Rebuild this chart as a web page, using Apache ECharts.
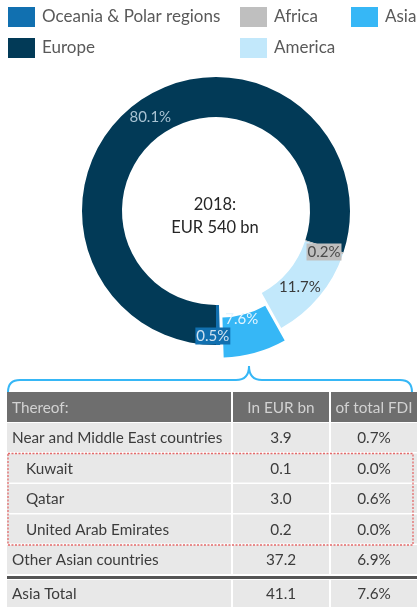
<!DOCTYPE html>
<html>
<head>
<meta charset="utf-8">
<script src="https://cdn.jsdelivr.net/npm/echarts@6/dist/echarts.min.js"></script>
<style>
  html, body { margin: 0; padding: 0; background: #fff; }
  #chart { width: 417px; height: 607px; }
</style>
</head>
<body>
<div id="chart"></div>
<script>
// Regional split of foreign direct investment stock, 2018 (share of total, %)
const regions = ['Oceania & Polar regions', 'Europe', 'Africa', 'America', 'Asia'];
const shares = [0.5, 80.1, 0.2, 11.7, 7.6];
const totalLabel = ['2018:', 'EUR 540 bn'];

// Breakdown of the Asian part
const tableHeaders = ['Thereof:', 'In EUR bn', 'of total FDI'];
const tableRows = ['Near and Middle East countries', 'Kuwait', 'Qatar', 'United Arab Emirates', 'Other Asian countries', 'Asia Total'];
const eurBn = [3.9, 0.1, 3.0, 0.2, 37.2, 41.1];
const shareOfTotal = [0.7, 0.0, 0.6, 0.0, 6.9, 7.6];
const subRow = [false, true, true, true, false, false];

// Styling
const FONT = 'Lato, "Open Sans", sans-serif';
const colors = {
  'Oceania & Polar regions': '#1170b0',
  'Europe': '#023a57',
  'Africa': '#bfbfbf',
  'America': '#c2e8fb',
  'Asia': '#36b7f6'
};
const labelStyles = {
  'Oceania & Polar regions': { color: '#cfe2f0', backgroundColor: '#1170b0', padding: [1, 1] },
  'Europe': { color: '#a9c3d3' },
  'Africa': { color: '#4a4a4a', backgroundColor: '#bfbfbf', padding: [1, 1] },
  'America': { color: '#3a3a3a' },
  'Asia': { color: '#e4f5ff' }
};
const labelNudge = {
  'Oceania & Polar regions': [-5, 8],
  'Europe': [3, 1],
  'Africa': [-3, 4],
  'America': [-6, 1],
  'Asia': [-9, -17]
};

const pieCenter = [216, 211];

const chart = echarts.init(document.getElementById('chart'), null, { renderer: 'canvas' });

const pieData = regions.map((name, i) => ({
  name,
  value: shares[i],
  selected: name === 'Asia',
  itemStyle: { color: colors[name] },
  label: labelStyles[name]
}));

function legendFor(names, left) {
  return {
    data: names,
    left, top: 7,
    padding: 0,
    orient: 'vertical',
    itemWidth: 27,
    itemHeight: 20,
    itemGap: 11,
    icon: 'rect',
    selectedMode: false,
    textStyle: { fontFamily: FONT, fontSize: 17, color: '#595959', padding: [0, 0, 0, 2] }
  };
}

// Table geometry
const colX = [7, 233, 331];
const colW = [224, 96, 86];
const headerTop = 392, headerH = 30;
const rowPitch = 30.5, rowH = 29;
function rowTop(i) { return i < 5 ? 423 + i * rowPitch : 580; }
function rowHeight(i) { return i < 5 ? rowH : 27; }
const TABLE_FONT = '15.3px ' + FONT;

const g = [];
// Brace linking the Asia slice to its breakdown
const braceStyle = { fill: 'none', stroke: '#36b7f6', lineWidth: 2 };
g.push({ type: 'bezierCurve', shape: { x1: 8, y1: 392, cpx1: 8, cpy1: 380, x2: 20, y2: 380 }, style: braceStyle });
g.push({ type: 'line', shape: { x1: 20, y1: 380, x2: 236, y2: 380 }, style: braceStyle });
g.push({ type: 'bezierCurve', shape: { x1: 236, y1: 380, cpx1: 249, cpy1: 380, x2: 249, y2: 366 }, style: braceStyle });
g.push({ type: 'bezierCurve', shape: { x1: 249, y1: 366, cpx1: 249, cpy1: 380, x2: 262, y2: 380 }, style: braceStyle });
g.push({ type: 'line', shape: { x1: 262, y1: 380, x2: 400, y2: 380 }, style: braceStyle });
g.push({ type: 'bezierCurve', shape: { x1: 400, y1: 380, cpx1: 412, cpy1: 380, x2: 412, y2: 392 }, style: braceStyle });
// Header
tableHeaders.forEach((h, c) => {
  g.push({ type: 'rect', shape: { x: colX[c], y: headerTop, width: colW[c], height: headerH }, style: { fill: '#6e6e6e' } });
  g.push({
    type: 'text', x: c === 0 ? colX[c] + 5 : colX[c] + colW[c] / 2, y: headerTop + headerH / 2 + 1,
    style: { text: h, fill: '#d2d2d2', font: TABLE_FONT, align: c === 0 ? 'left' : 'center', verticalAlign: 'middle' }
  });
});
// Body rows
tableRows.forEach((name, i) => {
  const y = rowTop(i), h = rowHeight(i);
  const cells = [name, eurBn[i].toFixed(1), shareOfTotal[i].toFixed(1) + '%'];
  cells.forEach((t, c) => {
    g.push({ type: 'rect', shape: { x: colX[c], y, width: colW[c], height: h }, style: { fill: '#e8e8e8' } });
    const tx = c === 0 ? colX[c] + (subRow[i] ? 19 : 5) : colX[c] + colW[c] / 2;
    g.push({
      type: 'text', x: tx, y: y + h / 2 + 1,
      style: { text: t, fill: '#3c3c3c', font: TABLE_FONT, align: c === 0 ? 'left' : 'center', verticalAlign: 'middle' }
    });
  });
});
// Rule above the total
g.push({ type: 'rect', shape: { x: 7, y: 576, width: 410, height: 3 }, style: { fill: '#555555' } });
// Dotted frame around the Gulf countries
g.push({
  type: 'rect', z: 10,
  shape: { x: 8, y: 453.5, width: 405, height: 91.5 },
  style: { fill: 'none', stroke: '#e36a6a', lineWidth: 1.3, lineDash: [2, 1.5] }
});
// Total in the middle of the ring
g.push({
  type: 'text', x: pieCenter[0] - 1, y: 205,
  style: { text: totalLabel[0], fill: '#262626', font: '16.5px ' + FONT, align: 'center', verticalAlign: 'middle' }
});
g.push({
  type: 'text', x: pieCenter[0] - 1, y: 228,
  style: { text: totalLabel[1], fill: '#262626', font: '16.5px ' + FONT, align: 'center', verticalAlign: 'middle' }
});

chart.setOption({
  animation: false,
  legend: [
    legendFor(['Oceania & Polar regions', 'Europe'], 8),
    legendFor(['Africa', 'America'], 240),
    legendFor(['Asia'], 351)
  ],
  series: [{
    type: 'pie',
    center: pieCenter,
    radius: [94, 134],
    startAngle: 271.8,
    clockwise: true,
    selectedMode: 'multiple',
    selectedOffset: 13,
    avoidLabelOverlap: false,
    emphasis: { disabled: true },
    label: {
      show: true,
      position: 'inside',
      fontFamily: FONT,
      fontSize: 15,
      formatter: p => p.value.toFixed(1) + '%'
    },
    labelLine: { show: false },
    labelLayout: params => {
      const n = labelNudge[regions[params.dataIndex]] || [0, 0];
      return { dx: n[0], dy: n[1] };
    },
    data: pieData
  }],
  graphic: { elements: g }
});
</script>
</body>
</html>
